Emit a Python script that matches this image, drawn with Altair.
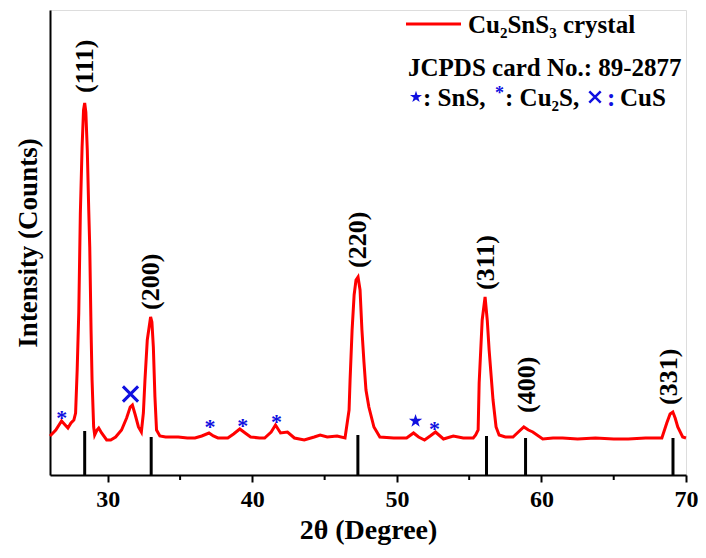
import altair as alt
import pandas as pd

# ---------------- data ----------------
two_theta = [26.00, 26.07, 26.40, 26.80, 27.05, 27.24, 27.45, 27.65, 27.77, 27.88,
             27.99, 28.10, 28.22, 28.32, 28.40, 28.48, 28.58, 28.68, 28.75, 28.84,
             28.91, 29.02, 29.09, 29.25, 29.37, 29.57, 29.92, 30.20, 30.54, 30.95,
             31.30, 31.55, 31.70, 31.90, 32.12, 32.32, 32.46, 32.57, 32.73, 32.96,
             33.05, 33.15, 33.26, 33.37, 33.60, 34.00, 34.87, 35.50, 36.03, 36.50,
             37.00, 37.30, 37.62, 38.30, 38.70, 39.13, 39.50, 39.88, 40.50, 40.85,
             41.30, 41.60, 41.95, 42.43, 42.91, 43.59, 44.28, 44.69, 45.18, 45.86,
             46.41, 46.69, 46.76, 46.90, 47.04, 47.17, 47.31, 47.45, 47.58, 47.72,
             47.86, 48.06, 48.41, 48.82, 49.78, 50.67, 51.15, 51.50, 51.91, 52.30,
             52.67, 53.22, 53.90, 54.59, 55.28, 55.45, 55.62, 55.69, 55.90, 56.10,
             56.25, 56.38, 56.65, 56.86, 57.07, 57.50, 58.03, 58.40, 58.78, 59.10,
             59.40, 60.09, 60.80, 61.46, 62.50, 63.73, 65.00, 66.00, 67.20, 68.33,
             68.67, 68.90, 69.09, 69.25, 69.43, 69.77, 70.00]
intensity = [39, 40, 45, 54, 50, 47, 52, 55, 62, 105,
             162, 262, 328, 365, 372, 363, 325, 265, 228, 145,
             95, 48, 40, 45, 47, 42, 35, 35, 38, 45,
             57, 68, 70, 60, 48, 43, 62, 95, 135, 158,
             153, 128, 78, 45, 39, 38, 38, 37, 37, 39,
             42, 39, 37, 37, 41, 46, 42, 38, 37, 37,
             43, 50, 42, 43, 37, 35, 38, 40, 38, 39,
             37, 65, 95, 145, 180, 195, 198, 185, 145, 113,
             85, 68, 48, 38, 37, 37, 42, 38, 35, 39,
             43, 36, 39, 37, 37, 40, 45, 92, 155, 178,
             155, 125, 75, 48, 40, 38, 38, 43, 48, 45,
             43, 36, 37, 37, 36, 37, 36, 36, 37, 37,
             52, 61, 63, 57, 48, 38, 37]

# JCPDS 89-2877 reference lines
ref_pos = [28.4, 33.0, 47.3, 56.2, 58.9, 69.1]
ref_height = [44, 38, 40, 39, 37, 37]

# Miller index labels
hkl_text = ["(111)", "(200)", "(220)", "(311)", "(400)", "(331)"]
hkl_pos = [28.40, 33.00, 47.31, 56.17, 59.00, 68.85]
hkl_level = [382, 165, 207, 185, 62, 70]

# impurity markers
ast_pos = [26.82, 37.07, 39.33, 41.67, 52.60]
ast_level = [62, 53, 54, 58, 51]
cross_pos = [31.57]
cross_level = [81]
star_pos = [51.29]
star_level = [54]

x_ticks = [30, 40, 50, 60, 70]
minor_ticks = [35, 45, 55, 65]

# ---------------- chart ----------------
W, H = 636, 465
FONT = "Liberation Serif"
BLUE = "#1010e0"
STAR = ("M0,-1L0.2245,-0.309L0.951,-0.309L0.363,0.118L0.588,0.809L0,0.382"
        "L-0.588,0.809L-0.363,0.118L-0.951,-0.309L-0.2245,-0.309Z")
CROSS = "M-1,-1L1,1M-1,1L1,-1"

xs = alt.Scale(domain=[26, 70], nice=False, zero=False)
ys = alt.Scale(domain=[0, H], nice=False, zero=False)

x_axis = alt.Axis(values=x_ticks, title="2θ (Degree)", grid=False, tickSize=7,
                  tickWidth=2, tickColor="black", domainColor="black", domainWidth=2,
                  labelFont=FONT, labelFontWeight="bold", labelFontSize=24,
                  labelColor="black", labelPadding=5, labelFlush=False,
                  titleFont=FONT, titleFontWeight="bold", titleFontSize=28,
                  titleColor="black", titlePadding=5)
y_axis = alt.Axis(title="Intensity (Counts)", ticks=False, labels=False, grid=False,
                  domainColor="black", domainWidth=2, titleFont=FONT,
                  titleFontWeight="bold", titleFontSize=27, titleColor="black",
                  titlePadding=8)

curve_df = pd.DataFrame({"t": two_theta, "i": intensity})
ref_df = pd.DataFrame({"t": ref_pos, "h": ref_height, "z": [0] * len(ref_pos)})
hkl_df = pd.DataFrame({"t": hkl_pos, "v": hkl_level, "s": hkl_text})
ast_df = pd.DataFrame({"t": ast_pos, "v": ast_level})
cross_df = pd.DataFrame({"t": cross_pos, "v": cross_level})
star_df = pd.DataFrame({"t": star_pos, "v": star_level})
minor_df = pd.DataFrame({"t": minor_ticks})
one = pd.DataFrame({"k": [0]})

sticks = alt.Chart(ref_df).mark_rule(color="black", strokeWidth=3).encode(
    x=alt.X("t:Q", scale=xs, axis=x_axis),
    y=alt.Y("z:Q", scale=ys, axis=y_axis),
    y2="h:Q")

curve = alt.Chart(curve_df).mark_line(color="#ff0000", strokeWidth=3).encode(
    x=alt.X("t:Q", scale=xs), y=alt.Y("i:Q", scale=ys))

minor = alt.Chart(minor_df).mark_rule(color="black", strokeWidth=2).encode(
    x=alt.X("t:Q", scale=xs), y=alt.value(H), y2=alt.value(H + 5))

labels = alt.Chart(hkl_df).mark_text(angle=270, align="left", baseline="middle",
                                     font=FONT, fontWeight="bold", fontSize=26,
                                     color="black").encode(
    x=alt.X("t:Q", scale=xs), y=alt.Y("v:Q", scale=ys), text="s:N")

asts = alt.Chart(ast_df).mark_text(text="*", font=FONT, fontWeight="bold", fontSize=22,
                                   color=BLUE, baseline="alphabetic", dy=12).encode(
    x=alt.X("t:Q", scale=xs), y=alt.Y("v:Q", scale=ys))

crosses = alt.Chart(cross_df).mark_point(shape=CROSS, size=230, color=BLUE,
                                         strokeWidth=3, filled=False, opacity=1).encode(
    x=alt.X("t:Q", scale=xs), y=alt.Y("v:Q", scale=ys))

stars = alt.Chart(star_df).mark_point(shape=STAR, size=200, color=BLUE, filled=True,
                                      opacity=1).encode(
    x=alt.X("t:Q", scale=xs), y=alt.Y("v:Q", scale=ys))

# ---- legend block (top right) ----
LS = 25


def txt(s, x, y, color="black", size=LS, base="middle"):
    return alt.Chart(one).mark_text(text=s, font=FONT, fontWeight="bold", fontSize=size,
                                    color=color, align="left", baseline=base).encode(
        x=alt.value(x), y=alt.value(y))


leg_line = alt.Chart(one).mark_rule(color="#ff0000", strokeWidth=3).encode(
    x=alt.value(356), x2=alt.value(411), y=alt.value(14))
leg1 = txt("Cu₂SnS₃ crystal", 418, 15)
leg2 = txt("JCPDS card No.: 89-2877", 358, 58)
leg_star = alt.Chart(one).mark_point(shape=STAR, size=160, color=BLUE, filled=True,
                                     opacity=1).encode(x=alt.value(366), y=alt.value(87))
leg3a = txt(": SnS,", 373, 88)
leg_ast = txt("*", 445, 84, color=BLUE, size=18)
leg3b = txt(": Cu₂S,", 455, 88)
leg_cross = alt.Chart(one).mark_point(shape=CROSS, size=130, color=BLUE, strokeWidth=2.5,
                                      filled=False, opacity=1).encode(
    x=alt.value(545), y=alt.value(87))
leg_colon = txt(":", 557, 88, color=BLUE)
leg3c = txt("CuS", 570, 88)

chart = alt.layer(
    sticks, minor, curve, labels, asts, crosses, stars,
    leg_line, leg1, leg2, leg_star, leg3a, leg_ast, leg3b, leg_cross, leg_colon, leg3c
).properties(
    width=W, height=H,
    autosize=alt.AutoSizeParams(type="none"),
    padding={"left": 42, "top": 2, "right": 12, "bottom": 75},
).configure_view(stroke="black", strokeWidth=2).configure(background="white")

chart.save("out.html", embed_options={"renderer": "svg", "actions": False})
